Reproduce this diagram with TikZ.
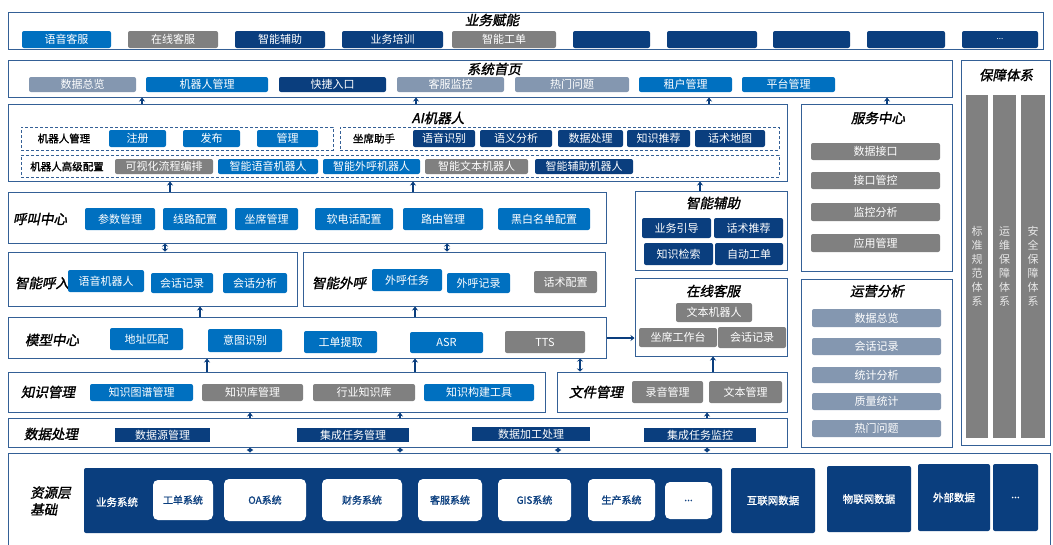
\documentclass[tikz,border=0pt]{standalone}
\usepackage{fontspec}
\newfontfamily\cjk{Noto Sans CJK SC}
\newfontfamily\cjkt[FakeSlant=0.2,FakeBold=1.6]{Noto Sans CJK SC}
\newfontfamily\cjkb[FakeBold=1.3]{Noto Sans CJK SC}
\usetikzlibrary{arrows.meta}
\definecolor{mblue}{RGB}{0,112,192}
\definecolor{navy}{RGB}{10,62,126}
\definecolor{gry}{RGB}{128,128,128}
\definecolor{lgb}{RGB}{132,151,176}
\definecolor{bord}{RGB}{52,96,150}
\definecolor{vtxt}{RGB}{232,232,232}
\newcommand{\bx}[7]{\node[#6, minimum width={(#4)-(#2)}, minimum height={(#5)-(#3)}] (#1) at ({((#2)+(#4))/2},{((#3)+(#5))/2}) {#7};}
\tikzset{
  box/.style={draw=bord, line width=1pt, fill=white, inner sep=0pt},
  dbox/.style={draw=bord, line width=0.9pt, dash pattern=on 3pt off 2pt, inner sep=0pt},
  item/.style={rounded corners=2pt, text=white, inner sep=0pt, font=\cjk\fontsize{11}{12}\selectfont},
  mb/.style={item, fill=mblue},
  nv/.style={item, fill=navy},
  gr/.style={item, fill=gry},
  lg/.style={item, fill=lgb},
  sq/.style={inner sep=0pt, fill=navy, text=white, font=\cjk\fontsize{11}{12}\selectfont},
  wb/.style={rounded corners=5pt, fill=white, inner sep=0pt, text=navy, font=\cjkb\fontsize{10}{12}\selectfont},
  nb/.style={rounded corners=2pt, fill=navy, inner sep=0pt, text=white, font=\cjkb\fontsize{10.5}{12}\selectfont},
  ttl/.style={font=\cjkt\fontsize{13.5}{17}\selectfont, text=black, inner sep=0pt},
  lbl/.style={font=\cjkb\fontsize{10.5}{12}\selectfont, text=black, inner sep=0pt},
  vbar/.style={fill=gry, inner sep=0pt, text=vtxt, align=center, font=\cjk\fontsize{11}{14}\selectfont},
  arr/.style={draw=navy, line width=1.7pt, -{Stealth[length=4pt,width=6pt]}},
  darr/.style={draw=navy, line width=1.7pt, {Stealth[length=3pt,width=6pt]}-{Stealth[length=3pt,width=6pt]}},
}
\begin{document}
\begin{tikzpicture}[x=1pt,y=-1pt]
\useasboundingbox (0,0) rectangle (1053,544);
\fill[white] (0,0) rectangle (1053,544);

% ---------- containers ----------
\bx{fn}{8}{12}{1043}{49}{box}{}
\bx{home}{8}{60}{952}{97}{box}{}
\bx{bz}{961}{60}{1050}{445}{box}{}
\bx{ai}{8}{104}{787}{181}{box}{}
\bx{svc}{801}{104}{952}{271}{box}{}
\bx{call}{8}{192}{606}{243}{box}{}
\bx{assist}{635}{191}{787}{270}{box}{}
\bx{cin}{8}{252}{297}{306}{box}{}
\bx{cout}{303}{252}{605}{306}{box}{}
\bx{online}{635}{278}{787}{356}{box}{}
\bx{ops}{801}{279}{952}{447}{box}{}
\bx{model}{8}{317}{606}{358}{box}{}
\bx{km}{8}{372}{545}{412}{box}{}
\bx{file}{557}{372}{787}{412}{box}{}
\bx{data}{8}{418}{787}{447}{box}{}
\bx{res}{8}{453}{1050}{548}{box}{}

% ---------- 业务赋能 ----------
\node[ttl] (tfn) at (492,20) {业务赋能};
\bx{f1}{22}{31}{111}{48}{mb}{语音客服}
\bx{f2}{128}{31}{218}{48}{gr}{在线客服}
\bx{f3}{235}{31}{325}{48}{nv}{智能辅助}
\bx{f4}{342}{31}{443}{48}{nv}{业务培训}
\bx{f5}{452}{31}{556}{48}{gr}{智能工单}
\bx{f6}{573}{31}{650}{48}{nv}{}
\bx{f7}{667}{31}{757}{48}{nv}{}
\bx{f8}{773}{31}{850}{48}{nv}{}
\bx{f9}{867}{31}{945}{48}{nv}{}
\bx{f10}{962}{31}{1038}{48}{nv}{\fontsize{8}{10}\selectfont ...}

% ---------- 系统首页 ----------
\node[ttl] (thome) at (494,69) {系统首页};
\bx{h1}{29}{77}{136}{92}{lg}{数据总览}
\bx{h2}{146}{77}{268}{92}{mb}{机器人管理}
\bx{h3}{279}{77}{386}{92}{nv}{快捷入口}
\bx{h4}{397}{77}{504}{92}{lg}{客服监控}
\bx{h5}{515}{77}{629}{92}{lg}{热门问题}
\bx{h6}{639}{77}{732}{92}{mb}{租户管理}
\bx{h7}{742}{77}{835}{92}{mb}{平台管理}

% ---------- 保障体系 ----------
\node[ttl] (tbz) at (1006,75) {保障体系};
\bx{v1}{966}{95}{988}{438}{vbar}{标\\准\\规\\范\\体\\系}
\bx{v2}{993}{95}{1016}{438}{vbar}{运\\维\\保\\障\\体\\系}
\bx{v3}{1021}{95}{1045}{438}{vbar}{安\\全\\保\\障\\体\\系}

% ---------- AI机器人 ----------
\node[ttl] (tai) at (438,118) {AI机器人};
\bx{d1}{21}{127}{333}{150}{dbox}{}
\bx{d2}{340}{127}{779}{150}{dbox}{}
\bx{d3}{21}{155}{779}{177}{dbox}{}
\node[lbl] (l1) at (64,138.5) {机器人管理};
\node[lbl] (l2) at (374,138.5) {坐席助手};
\node[lbl] (l3) at (67,166.5) {机器人高级配置};
\bx{a1}{109}{130}{166}{147}{mb}{注册}
\bx{a2}{183}{130}{240}{147}{mb}{发布}
\bx{a3}{257}{130}{318}{147}{mb}{管理}
\bx{a4}{413}{130}{475}{147}{nv}{语音识别}
\bx{a5}{480}{130}{552}{147}{nv}{语义分析}
\bx{a6}{558}{130}{623}{147}{nv}{数据处理}
\bx{a7}{627}{130}{690}{147}{nv}{知识推荐}
\bx{a8}{695}{130}{765}{147}{nv}{话术地图}
\bx{b1}{115}{159}{213}{174}{gr}{可视化流程编排}
\bx{b2}{218}{159}{318}{174}{mb}{智能语音机器人}
\bx{b3}{323}{159}{420}{174}{mb}{智能外呼机器人}
\bx{b4}{425}{159}{528}{174}{gr}{智能文本机器人}
\bx{b5}{535}{159}{633}{174}{nv}{智能辅助机器人}

% ---------- 服务中心 ----------
\node[ttl] (tsvc) at (878,118) {服务中心};
\bx{s1}{811}{143}{940}{160}{gr}{数据接口}
\bx{s2}{811}{172}{940}{189}{gr}{接口管控}
\bx{s3}{811}{203}{940}{221}{gr}{监控分析}
\bx{s4}{811}{234}{940}{252}{gr}{应用管理}

% ---------- 呼叫中心 ----------
\node[ttl] (tcall) at (40,219) {呼叫中心};
\bx{c1}{85}{208}{155}{230}{mb}{参数管理}
\bx{c2}{163}{208}{227}{230}{mb}{线路配置}
\bx{c3}{235}{208}{298}{230}{mb}{坐席管理}
\bx{c4}{315}{208}{393}{230}{mb}{软电话配置}
\bx{c5}{403}{208}{483}{230}{mb}{路由管理}
\bx{c6}{498}{208}{590}{230}{mb}{黑白名单配置}

% ---------- 智能辅助 ----------
\node[ttl] (tas) at (713,203) {智能辅助};
\bx{g1}{642}{218}{711}{238}{nv}{业务引导}
\bx{g2}{714}{218}{783}{238}{nv}{话术推荐}
\bx{g3}{644}{243}{713}{265}{nv}{知识检索}
\bx{g4}{715}{243}{783}{265}{nv}{自动工单}

% ---------- 智能呼入 / 外呼 ----------
\node[ttl] (tin) at (42,283) {智能呼入};
\bx{i1}{68}{270}{144}{292}{mb}{语音机器人}
\bx{i2}{151}{273}{213}{293}{mb}{会话记录}
\bx{i3}{223}{273}{287}{293}{mb}{会话分析}
\node[ttl] (tout) at (339,283) {智能外呼};
\bx{o1}{372}{269}{442}{291}{mb}{外呼任务}
\bx{o2}{447}{273}{510}{293}{mb}{外呼记录}
\bx{o3}{534}{271}{597}{293}{gr}{话术配置}

% ---------- 在线客服 ----------
\node[ttl] (ton) at (713,291) {在线客服};
\bx{n1}{676}{303}{752}{322}{gr}{文本机器人}
\bx{n2}{639}{328}{717}{347}{gr}{坐席工作台}
\bx{n3}{718}{327}{786}{348}{gr}{会话记录}

% ---------- 运营分析 ----------
\node[ttl] (tops) at (877,291) {运营分析};
\bx{p1}{812}{309}{941}{327}{lg}{数据总览}
\bx{p2}{812}{338}{941}{355}{lg}{会话记录}
\bx{p3}{812}{367}{941}{383}{lg}{统计分析}
\bx{p4}{812}{393}{941}{410}{lg}{质量统计}
\bx{p5}{812}{420}{941}{437}{lg}{热门问题}

% ---------- 模型中心 ----------
\node[ttl] (tmod) at (52,340) {模型中心};
\bx{m1}{110}{328}{183}{350}{mb}{地址匹配}
\bx{m2}{208}{329}{282}{352}{mb}{意图识别}
\bx{m3}{304}{331}{377}{353}{mb}{工单提取}
\bx{m4}{410}{332}{483}{353}{mb}{ASR}
\bx{m5}{505}{331}{585}{353}{gr}{TTS}

% ---------- 知识管理 ----------
\node[ttl] (tkm) at (48,392) {知识管理};
\bx{k1}{90}{384}{193}{401}{mb}{知识图谱管理}
\bx{k2}{202}{384}{303}{401}{gr}{知识库管理}
\bx{k3}{313}{384}{415}{401}{gr}{行业知识库}
\bx{k4}{424}{384}{534}{401}{mb}{知识构建工具}

% ---------- 文件管理 ----------
\node[ttl] (tfile) at (596,392) {文件管理};
\bx{w1}{632}{381}{703}{403}{gr}{录音管理}
\bx{w2}{709}{381}{782}{403}{gr}{文本管理}

% ---------- 数据处理 ----------
\node[ttl] (tdata) at (51,434) {数据处理};
\bx{e1}{115}{428}{210}{442}{sq}{数据源管理}
\bx{e2}{297}{428}{409}{442}{sq}{集成任务管理}
\bx{e3}{472}{427}{590}{441}{sq}{数据加工处理}
\bx{e4}{644}{428}{756}{442}{sq}{集成任务监控}

% ---------- 资源层基础 ----------
\node[ttl, anchor=west, align=left] (tres) at (30,501) {资源层\\基础};
\bx{biz}{84}{468}{722}{533}{nb}{}
\node[font=\cjkb\fontsize{10.5}{12}\selectfont, text=white] (tbiz) at (117,502) {业务系统};
\bx{r1}{153}{480}{213}{520}{wb}{工单系统}
\bx{r2}{224}{479}{306}{521}{wb}{OA系统}
\bx{r3}{322}{479}{402}{521}{wb}{财务系统}
\bx{r4}{418}{479}{482}{521}{wb}{客服系统}
\bx{r5}{498}{479}{571}{521}{wb}{GIS系统}
\bx{r6}{588}{479}{655}{521}{wb}{生产系统}
\bx{r7}{665}{482}{712}{519}{wb}{...}
\bx{x1}{731}{468}{815}{533}{nb}{互联网数据}
\bx{x2}{827}{466}{911}{532}{nb}{物联网数据}
\bx{x3}{918}{464}{990}{531}{nb}{外部数据}
\bx{x4}{993}{464}{1038}{531}{nb}{...}

% ---------- connectors ----------
\draw[arr] (142,0 |- ai.north) -- (142,0 |- home.south);
\draw[arr] (416,0 |- ai.north) -- (416,0 |- home.south);
\draw[arr] (709,0 |- ai.north) -- (709,0 |- home.south);
\draw[arr] (887,0 |- svc.north) -- (887,0 |- home.south);
\draw[arr] (170,0 |- call.north) -- (170,0 |- ai.south);
\draw[arr] (413,0 |- call.north) -- (413,0 |- ai.south);
\draw[arr] (700,0 |- assist.north) -- (700,0 |- ai.south);
\draw[darr] (165,0 |- cin.north) -- (165,0 |- call.south);
\draw[darr] (447,0 |- cout.north) -- (447,0 |- call.south);
\draw[arr] (200,0 |- model.north) -- (200,0 |- cin.south);
\draw[arr] (415,0 |- model.north) -- (415,0 |- cout.south);
\draw[arr] (207,0 |- km.north) -- (207,0 |- model.south);
\draw[arr] (415,0 |- km.north) -- (415,0 |- model.south);
\draw[darr] (580,0 |- file.north) -- (580,0 |- model.south);
\draw[arr] (713,0 |- file.north) -- (713,0 |- online.south);
\draw[arr] (model.east |- 0,338) -- (online.west |- 0,338);
\draw[arr] (250,0 |- data.north) -- (250,0 |- km.south);
\draw[arr] (400,0 |- data.north) -- (400,0 |- km.south);
\draw[arr] (707,0 |- data.north) -- (707,0 |- file.south);
\draw[darr] (250,0 |- res.north) -- (250,0 |- data.south);
\draw[darr] (400,0 |- res.north) -- (400,0 |- data.south);
\draw[darr] (558,0 |- res.north) -- (558,0 |- data.south);
\draw[darr] (707,0 |- res.north) -- (707,0 |- data.south);
\end{tikzpicture}
\end{document}
